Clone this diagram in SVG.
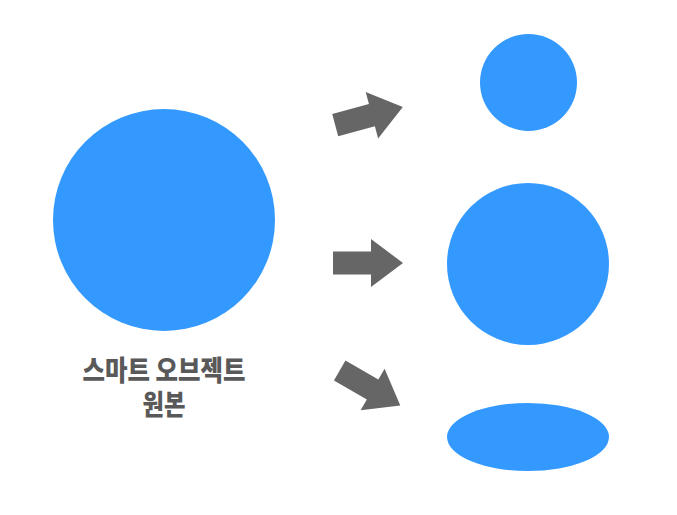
<svg xmlns="http://www.w3.org/2000/svg" width="677" height="515" viewBox="0 0 677 515">
<style>
.shape{fill:#3399FF}
.arrow{fill:#666666}
.label{font-family:"Noto Sans CJK KR",sans-serif;font-weight:900;font-size:28px;fill:#595959;text-anchor:middle}
</style>
<defs>
<polygon id="arr" points="-35,-11.5 3,-11.5 3,-24 35,0 3,24 3,11.5 -35,11.5"/>
</defs>
<rect width="677" height="515" fill="#ffffff"/>
<g id="original">
<circle class="shape" cx="164" cy="220" r="111"/>
<text class="label" x="164" y="381" textLength="163" lengthAdjust="spacingAndGlyphs">스마트 오브젝트</text>
<text class="label" x="164" y="415" textLength="43" lengthAdjust="spacingAndGlyphs">원본</text>
</g>
<g id="small-circle"><circle class="shape" cx="528.5" cy="82.5" r="48.5"/></g>
<g id="same-circle"><circle class="shape" cx="528" cy="264" r="81"/></g>
<g id="ellipse"><ellipse class="shape" cx="528" cy="437" rx="81" ry="34"/></g>
<g id="connectors">
<use href="#arr" class="arrow" transform="translate(369,116) rotate(-15)"/>
<use href="#arr" class="arrow" transform="translate(368,263)"/>
<use href="#arr" class="arrow" transform="translate(370,388) rotate(30)"/>
</g>
</svg>
